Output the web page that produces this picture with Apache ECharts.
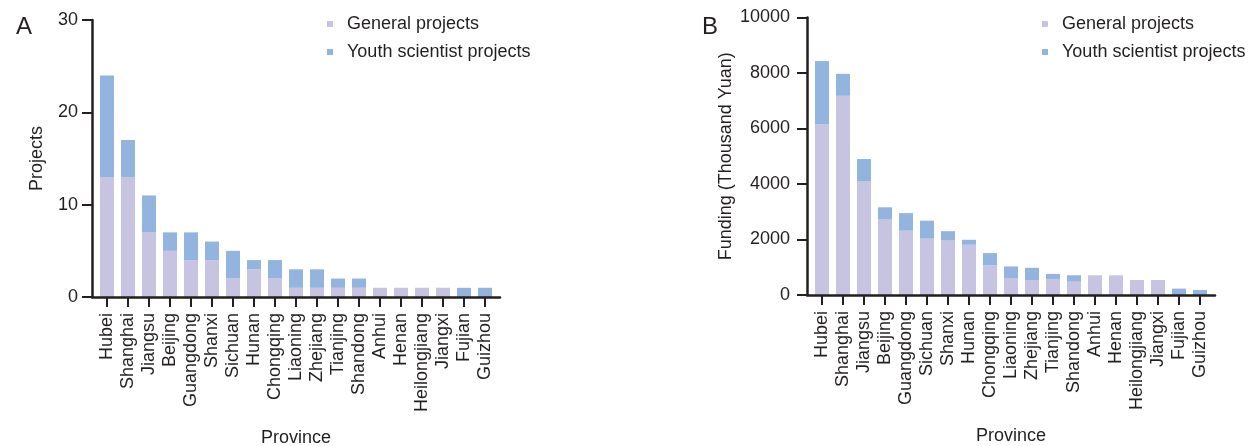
<!DOCTYPE html>
<html>
<head>
<meta charset="utf-8">
<script src="https://cdn.jsdelivr.net/npm/echarts@6/dist/echarts.min.js"></script>
<style>
  html, body { margin: 0; padding: 0; background: #ffffff; }
  #chart { width: 1260px; height: 446px; }
</style>
</head>
<body>
<div id="chart"></div>
<script>
// Panel A: number of funded projects per province
const provincesA = ['Hubei', 'Shanghai', 'Jiangsu', 'Beijing', 'Guangdong', 'Shanxi', 'Sichuan', 'Hunan',
  'Chongqing', 'Liaoning', 'Zhejiang', 'Tianjing', 'Shandong', 'Anhui', 'Henan', 'Heilongjiang',
  'Jiangxi', 'Fujian', 'Guizhou'];
const generalProjects = [13, 13, 7, 5, 4, 4, 2, 3, 2, 1, 1, 1, 1, 1, 1, 1, 1, 0, 0];
const youthProjects   = [11, 4, 4, 2, 3, 2, 3, 1, 2, 2, 2, 1, 1, 0, 0, 0, 0, 1, 1];
const projectTicks = [0, 10, 20, 30];

// Panel B: funding (thousand yuan) per province
const provincesB = ['Hubei', 'Shanghai', 'Jiangsu', 'Beijing', 'Guangdong', 'Sichuan', 'Shanxi', 'Hunan',
  'Chongqing', 'Liaoning', 'Zhejiang', 'Tianjing', 'Shandong', 'Anhui', 'Henan', 'Heilongjiang',
  'Jiangxi', 'Fujian', 'Guizhou'];
const generalFunding = [6150, 7180, 4090, 2720, 2320, 2030, 1960, 1810, 1070, 590, 540, 580, 480, 710, 710, 540, 540, 0, 0];
const youthFunding   = [2280, 790, 810, 440, 630, 650, 340, 180, 440, 440, 440, 180, 230, 0, 0, 0, 0, 230, 180];
const fundingTicks = [0, 2000, 4000, 6000, 8000, 10000];

const seriesNames = ['General projects', 'Youth scientist projects'];

const INK = '#231f20';
const LAVENDER = '#c7c4e2';
const BLUE = '#92b4de';
const FONT = "'Liberation Sans', Arial, Helvetica, sans-serif";

const chart = echarts.init(document.getElementById('chart'), null, { renderer: 'canvas' });

// Category axis under the bars: ticks and province labels only
function barAxis(cats, gridIndex) {
  return {
    type: 'category', gridIndex, data: cats,
    axisLine: { show: false },
    axisTick: { show: true, alignWithLabel: true, length: 10, lineStyle: { color: INK, width: 2 } },
    axisLabel: { rotate: 90, margin: 16, fontSize: 18, color: INK, fontFamily: FONT, interval: 0 },
    splitLine: { show: false }
  };
}
// Slightly wider frame axis carrying the baseline and the axis title
function frameXAxis(cats, gridIndex) {
  return {
    type: 'category', gridIndex, data: cats, z: 10,
    axisLine: { show: true, lineStyle: { color: INK, width: 2.5 } },
    axisTick: { show: false }, axisLabel: { show: false },
    name: 'Province', nameLocation: 'middle', nameGap: 132,
    nameTextStyle: { fontSize: 18, color: INK, fontFamily: FONT }
  };
}
function hiddenY(ticks, gridIndex) {
  return { type: 'value', gridIndex, min: ticks[0], max: ticks[ticks.length - 1], show: false };
}
function frameYAxis(ticks, gridIndex, name, nameGap, margin) {
  return {
    type: 'value', gridIndex, min: ticks[0], max: ticks[ticks.length - 1], z: 10,
    interval: ticks[1] - ticks[0],
    axisLine: { show: true, lineStyle: { color: INK, width: 2.5 } },
    axisTick: { show: true, length: 10, lineStyle: { color: INK, width: 2 } },
    axisLabel: { margin, fontSize: 18, color: INK, fontFamily: FONT, formatter: v => String(v) },
    splitLine: { show: false },
    name, nameLocation: 'middle', nameGap, nameRotate: 90,
    nameTextStyle: { fontSize: 18, color: INK, fontFamily: FONT }
  };
}
function legendAt(left) {
  return {
    left, top: 10, orient: 'vertical', icon: 'rect', itemWidth: 6, itemHeight: 6, itemGap: 10,
    data: seriesNames,
    textStyle: { fontSize: 18, color: INK, fontFamily: FONT, lineHeight: 18, padding: [0, 0, 0, 9] }
  };
}
function barSeries(name, values, axisIndex, stack, color) {
  return {
    type: 'bar', name, data: values, stack, barWidth: 14,
    xAxisIndex: axisIndex, yAxisIndex: axisIndex,
    itemStyle: { color }, emphasis: { disabled: true }
  };
}
function gridBox(left, top, width, height) {
  return { left, top, width, height, containLabel: false, outerBoundsMode: 'none' };
}

chart.setOption({
  animation: false,
  textStyle: { fontFamily: FONT },
  title: [
    { text: 'A', left: 11, top: 10, textStyle: { fontSize: 24, fontWeight: 'normal', color: INK, fontFamily: FONT } },
    { text: 'B', left: 697, top: 10, textStyle: { fontSize: 24, fontWeight: 'normal', color: INK, fontFamily: FONT } }
  ],
  legend: [legendAt(322), legendAt(1037)],
  grid: [
    gridBox(96.5, 20, 399, 277),
    gridBox(92, 20, 408, 277),
    gridBox(811.5, 17.5, 399, 277.5),
    gridBox(807, 17.5, 408, 277.5)
  ],
  xAxis: [
    barAxis(provincesA, 0), frameXAxis(provincesA, 1),
    barAxis(provincesB, 2), frameXAxis(provincesB, 3)
  ],
  yAxis: [
    hiddenY(projectTicks, 0), frameYAxis(projectTicks, 1, 'Projects', 46, 14),
    hiddenY(fundingTicks, 2), frameYAxis(fundingTicks, 3, 'Funding (Thousand Yuan)', 72, 17)
  ],
  series: [
    barSeries(seriesNames[0], generalProjects, 0, 'countA', LAVENDER),
    barSeries(seriesNames[1], youthProjects, 0, 'countA', BLUE),
    barSeries(seriesNames[0], generalFunding, 2, 'fundB', LAVENDER),
    barSeries(seriesNames[1], youthFunding, 2, 'fundB', BLUE)
  ]
});
</script>
</body>
</html>
